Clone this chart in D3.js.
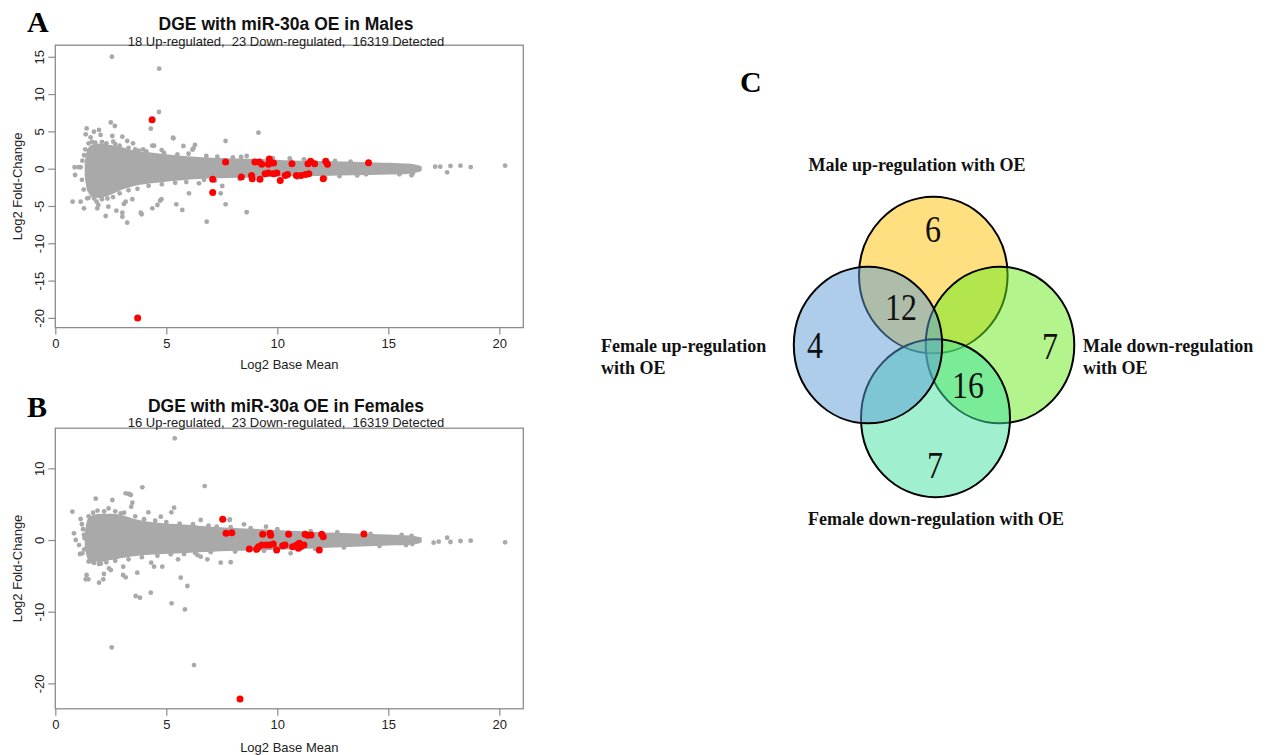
<!DOCTYPE html>
<html>
<head>
<meta charset="utf-8">
<script src="https://cdn.jsdelivr.net/npm/d3@7"></script>
<style>
  body { margin: 0; background: #fff; }
  svg { display: block; }
  text { white-space: pre; }
</style>
</head>
<body>
<svg id="fig" width="1266" height="755"></svg>
<script>
// ---------------- MA plot data ----------------
const xTicks = [0, 5, 10, 15, 20];
const maleYTicks = [-20, -15, -10, -5, 0, 5, 10, 15];
const femaleYTicks = [-20, -10, 0, 10];

const maleTitle = "DGE with miR-30a OE in Males";
const maleSubtitle = "18 Up-regulated,  23 Down-regulated,  16319 Detected";
const femaleTitle = "DGE with miR-30a OE in Females";
const femaleSubtitle = "16 Up-regulated,  23 Down-regulated,  16319 Detected";

// dense core of the gene cloud: outer extent (log2 fold change) by log2 base mean
const bandX        = [1.38, 1.5, 1.7, 2.0, 2.5, 3.0, 3.5, 4.45, 5.95, 7.45, 8.95, 10.45, 12.0, 13.5, 15.0, 16.0, 16.45];
const maleBandHi   = [0.8, 2.6, 3.1, 3.2, 3.0, 2.7, 2.3, 1.95, 1.5, 1.25, 1.15, 0.95, 0.85, 0.75, 0.62, 0.48, 0.2];
const maleBandLo   = [-1.0, -3.0, -3.6, -3.75, -3.3, -2.65, -2.2, -1.75, -1.3, -1.1, -1.0, -0.85, -0.8, -0.7, -0.62, -0.5, -0.2];
const femaleBandHi = [1.0, 2.8, 3.3, 3.5, 3.5, 3.3, 2.8, 2.3, 1.95, 1.6, 1.4, 1.15, 0.9, 0.75, 0.6, 0.45, 0.2];
const femaleBandLo = [-0.9, -2.5, -2.8, -2.9, -2.6, -2.35, -2.1, -1.85, -1.63, -1.4, -1.3, -1.15, -0.95, -0.75, -0.6, -0.5, -0.2];

// individual non-significant genes outside the dense core [baseMean, foldChange]
const maleGray = [
  [2.55, 15.0], [4.68, 13.4], [4.67, 7.6], [4.3, 5.36], [1.41, 5.4], [1.74, 4.96], [1.97, 5.19],
  [2.04, 4.52], [1.37, 4.6], [1.59, 4.2], [2.5, 6.2], [2.68, 5.72], [2.57, 4.38], [2.61, 3.62],
  [3.02, 4.29], [3.24, 3.71], [3.5, 3.4], [3.77, 2.41], [3.96, 2.6], [4.37, 3.08], [4.45, 3.08],
  [4.79, 2.5], [5.3, 4.16], [5.77, 3.04], [6.22, 2.73], [6.29, 3.18], [7.67, 3.71], [9.15, 4.83],
  [8.62, 1.7], [10.56, 1.39], [5.32, 4.07], [6.18, 2.55], [8.37, 1.57], [10.58, 1.2],
  [1.5, 3.4], [1.65, 3.6], [1.8, 3.5], [2.1, 3.6], [2.3, 3.4], [2.7, 3.3], [2.9, 3.1], [3.3, 2.8],
  [3.6, 2.6], [4.1, 2.3], [4.9, 2.1], [5.5, 1.9], [6.0, 2.0], [6.8, 1.7], [7.3, 1.6], [8.0, 1.5],
  [9.8, 1.4], [11.2, 1.25], [12.6, 1.05], [13.3, 0.95],
  [0.78, -4.42], [1.14, -4.42], [1.29, -5.31], [1.44, -3.97], [1.67, -3.53], [1.86, -4.42],
  [1.94, -4.87], [1.89, -5.31], [2.27, -6.34], [2.39, -5.09], [2.75, -5.63], [3.02, -5.9],
  [3.02, -6.43], [3.24, -7.24], [3.09, -4.73], [3.17, -4.42], [3.85, -5.9], [3.89, -6.11],
  [3.47, -4.1], [4.37, -5.31], [4.6, -4.87], [4.72, -4.29], [4.78, -4.1], [5.45, -4.78],
  [5.72, -5.54], [6.02, -3.3], [6.82, -7.1], [7.67, -4.78], [7.45, -3.3], [7.52, -2.32],
  [8.62, -5.84], [6.47, -1.96], [12.16, -1.2], [14.0, -0.76],
  [1.5, -3.9], [1.75, -4.0], [2.1, -4.1], [2.35, -4.0], [2.6, -3.8], [2.9, -3.3], [3.3, -2.9],
  [3.7, -2.7], [4.2, -2.3], [4.8, -2.1], [5.4, -1.9], [5.9, -1.8], [6.7, -1.5], [7.2, -1.6],
  [8.3, -1.35], [9.2, -1.3], [10.9, -1.2], [12.8, -1.0], [13.6, -0.9], [15.5, -0.75],
  [0.87, 0.19], [1.14, 0.19], [0.89, -0.85], [1.22, 1.07], [1.05, 0.2],
  [1.2, -1.5], [1.3, 1.8], [1.28, -2.8], [1.35, 2.6],
  [17.11, 0.27], [17.34, 0.27], [17.8, 0.36], [18.25, 0.4], [18.71, 0.22], [20.26, 0.4],
  [17.65, -0.49], [16.05, -0.89], [16.1, -0.6]
];

// significant genes (red) [baseMean, foldChange]
const maleSig = [
  [4.36, 6.55], [3.71, -20.0], [7.67, 0.89], [7.09, -1.43], [7.09, -3.2], [8.38, -1.12],
  [8.84, -0.9], [8.87, -1.34], [8.99, 0.89], [9.19, 0.89], [9.3, 0.58], [9.22, -1.43],
  [9.64, 1.29], [9.6, 0.58], [9.83, 0.75], [9.45, -0.67], [9.6, -0.59], [9.83, -0.67],
  [9.98, -0.59], [10.13, -1.57], [10.36, -0.9], [10.46, -0.77], [10.66, 0.67], [10.86, -0.9],
  [11.07, -0.9], [11.27, -0.77], [11.38, 0.67], [11.5, 0.98], [11.68, 0.67], [11.42, -0.67],
  [12.07, -1.34], [12.18, 0.98], [12.26, 0.58], [14.11, 0.8]
];

const femaleGray = [
  [5.38, 14.19], [6.73, 7.53], [3.92, 7.35], [3.17, 6.51], [3.32, 6.42], [3.4, 6.28], [1.82, 5.77],
  [2.57, 5.58], [3.47, 5.21], [3.42, 4.65], [5.35, 4.51], [5.23, 3.86], [0.77, 3.95], [1.14, 2.93],
  [4.19, 3.86], [4.75, 3.26], [2.95, 3.72], [7.6, 2.89], [7.86, 2.89], [8.5, 2.19], [6.55, 2.79],
  [7.27, 1.86], [0.84, 0.93], [0.92, 0.0], [1.07, -0.7], [1.29, 0.7], [1.32, 0.23], [9.49, 1.86],
  [7.85, 2.78],
  [1.5, 3.3], [1.7, 3.8], [1.9, 4.1], [2.2, 4.0], [2.4, 4.4], [2.7, 4.0], [3.1, 3.8], [3.6, 3.3],
  [4.0, 2.9], [4.5, 2.7], [5.0, 2.5], [5.6, 2.3], [6.2, 2.2], [6.9, 2.0], [7.9, 1.8], [8.8, 1.65],
  [10.0, 1.5], [11.5, 1.25], [12.7, 1.1], [14.2, 0.85], [15.6, 0.7],
  [1.11, -1.95], [1.22, -1.86], [1.41, -4.88], [1.37, -5.49], [1.49, -5.49], [1.97, -5.95],
  [2.19, -4.74], [2.16, -5.49], [1.67, -3.02], [1.97, -3.35], [2.42, -3.95], [2.5, -4.19],
  [3.06, -3.72], [3.05, -4.88], [3.17, -5.21], [3.69, -4.56], [3.62, -7.81], [3.81, -8.05],
  [4.3, -7.35], [4.32, -3.16], [4.45, -3.72], [4.82, -3.72], [5.24, -8.84], [5.65, -5.26],
  [5.84, -9.68], [5.95, -6.42], [5.53, -2.7], [2.54, -14.98], [6.25, -17.45], [6.4, -2.09],
  [6.55, -2.32], [6.85, -2.7], [7.45, -3.16], [10.6, -1.86], [7.9, -3.1],
  [1.5, -3.0], [1.75, -3.2], [2.05, -3.3], [2.3, -3.1], [2.7, -2.9], [3.3, -2.7], [3.9, -2.4],
  [4.6, -2.2], [5.2, -2.0], [5.8, -1.95], [6.3, -1.8], [7.0, -1.7], [8.1, -1.6], [9.4, -1.5],
  [11.7, -1.25], [13.0, -1.05], [14.6, -0.85], [15.8, -0.7],
  [1.25, 1.5], [1.3, -1.3], [1.2, 2.2],
  [17.04, -0.37], [17.27, -0.23], [17.65, 0.32], [17.8, -0.28], [18.25, -0.14], [18.71, -0.09],
  [20.26, -0.32], [16.05, 0.56], [16.08, -0.56]
];

const femaleSig = [
  [8.32, -22.2], [7.54, 2.89], [7.69, 0.93], [7.95, 1.02], [8.74, -1.26], [9.07, -1.3],
  [9.15, -0.93], [9.34, 0.79], [9.3, -0.7], [9.49, -0.7], [9.67, 0.93], [9.7, 0.65],
  [9.64, -0.7], [9.82, -0.56], [9.97, -1.4], [10.24, -0.79], [10.35, -0.7], [10.51, 0.79],
  [10.69, -0.93], [10.87, -0.7], [10.99, -0.46], [11.05, -0.93], [11.2, -0.7], [11.25, 0.79],
  [11.37, 0.65], [11.52, 0.7], [10.95, -1.16], [11.89, -1.4], [12.0, 0.79], [12.07, 0.46],
  [13.9, 0.84]
];

// ---------------- Venn data ----------------
const vennSetNames = [
  ["Male up-regulation with OE"],
  ["Female up-regulation", "with OE"],
  ["Male down-regulation", "with OE"],
  ["Female down-regulation with OE"]
];
const vennSetColors = ["#FFC000", "#5B9BD5", "#67EB19", "#41E1A1"];
const vennRegionLabels = ["6", "12", "4", "7", "16", "7"];

// ---------------- drawing ----------------
const svg = d3.select("#fig");
svg.append("rect").attr("width", 1266).attr("height", 755).attr("fill", "#fff");

const SANS = "'Liberation Sans', Arial, Helvetica, sans-serif";
const SERIF = "'Liberation Serif', 'Times New Roman', serif";
const GRAY = "#A9A9A9";
const AXIS = "#8c8c8c";

function drawMA(cfg) {
  const g = svg.append("g");
  const x = d3.scaleLinear().domain([0, 21.08]).range([55.3, 523.3]);
  const y = d3.scaleLinear().domain(cfg.yDomain).range([cfg.bottom, cfg.top]);

  const clipId = "clip" + cfg.key;
  svg.append("clipPath").attr("id", clipId)
    .append("rect").attr("x", x.range()[0]).attr("y", cfg.top)
    .attr("width", x.range()[1] - x.range()[0]).attr("height", cfg.bottom - cfg.top);

  const plot = g.append("g").attr("clip-path", `url(#${clipId})`);

  // dense core
  const band = bandX.map((bx, i) => ({ x: bx, hi: cfg.bandHi[i], lo: cfg.bandLo[i] }));
  plot.append("path")
    .datum(band)
    .attr("d", d3.area().x(d => x(d.x)).y0(d => y(d.lo)).y1(d => y(d.hi)).curve(d3.curveMonotoneX))
    .attr("fill", GRAY).attr("stroke", GRAY).attr("stroke-width", 2.5).attr("stroke-linejoin", "round");

  plot.selectAll("circle.gray").data(cfg.gray).join("circle")
    .attr("class", "gray")
    .attr("cx", d => x(d[0])).attr("cy", d => y(d[1])).attr("r", 2.4).attr("fill", GRAY);

  plot.selectAll("circle.sig").data(cfg.sig).join("circle")
    .attr("class", "sig")
    .attr("cx", d => x(d[0])).attr("cy", d => y(d[1])).attr("r", 3.5).attr("fill", "#FF0000");

  // frame
  g.append("rect")
    .attr("x", x.range()[0]).attr("y", cfg.top)
    .attr("width", x.range()[1] - x.range()[0]).attr("height", cfg.bottom - cfg.top)
    .attr("fill", "none").attr("stroke", AXIS).attr("stroke-width", 1.3);

  // x axis
  const xa = g.append("g").attr("transform", `translate(0,${cfg.bottom})`)
    .call(d3.axisBottom(x).tickValues(xTicks).tickSize(7).tickSizeOuter(0).tickPadding(3));
  xa.select(".domain").remove();
  xa.selectAll("line").attr("stroke", AXIS).attr("stroke-width", 1.2);
  xa.selectAll("text").attr("font-family", SANS).attr("font-size", 13).attr("fill", "#222")
    .attr("dy", null).attr("y", cfg.xTickBaseline - cfg.bottom);

  // y axis
  const ya = g.append("g").attr("transform", `translate(${x.range()[0]},0)`)
    .call(d3.axisLeft(y).tickValues(cfg.yTicks).tickSize(7).tickSizeOuter(0)
      .tickFormat(d => String(d)));
  ya.select(".domain").remove();
  ya.selectAll("line").attr("stroke", AXIS).attr("stroke-width", 1.2);
  ya.selectAll("text").attr("font-family", SANS).attr("font-size", 13).attr("fill", "#222")
    .attr("x", 0).attr("y", -11.5).attr("dy", null)
    .attr("text-anchor", "middle").attr("transform", "rotate(-90)");

  // axis titles
  g.append("text").attr("x", (x.range()[0] + x.range()[1]) / 2).attr("y", cfg.xLabelBaseline)
    .attr("text-anchor", "middle").attr("font-family", SANS).attr("font-size", 13).attr("fill", "#222")
    .text("Log2 Base Mean");
  g.append("text")
    .attr("transform", `translate(21.5,${(cfg.top + cfg.bottom) / 2}) rotate(-90)`)
    .attr("text-anchor", "middle").attr("font-family", SANS).attr("font-size", 13).attr("fill", "#222")
    .text("Log2 Fold-Change");

  // titles
  g.append("text").attr("x", 286).attr("y", cfg.titleBaseline)
    .attr("text-anchor", "middle").attr("font-family", SANS).attr("font-weight", "bold")
    .attr("font-size", 17.5).attr("fill", "#111").text(cfg.title);
  g.append("text").attr("x", 286).attr("y", cfg.subBaseline)
    .attr("text-anchor", "middle").attr("font-family", SANS)
    .attr("font-size", 13).attr("fill", "#222").text(cfg.subtitle);

  // panel letter
  g.append("text").attr("x", 27).attr("y", cfg.letterBaseline)
    .attr("font-family", SERIF).attr("font-weight", "bold").attr("font-size", 30)
    .attr("fill", "#000").text(cfg.letter);
}

drawMA({
  key: "A", letter: "A", title: maleTitle, subtitle: maleSubtitle,
  top: 45.2, bottom: 327.6, yDomain: [-21.3, 16.55], yTicks: maleYTicks,
  bandHi: maleBandHi, bandLo: maleBandLo, gray: maleGray, sig: maleSig,
  titleBaseline: 30, subBaseline: 46, letterBaseline: 32,
  xTickBaseline: 348, xLabelBaseline: 368.5
});

drawMA({
  key: "B", letter: "B", title: femaleTitle, subtitle: femaleSubtitle,
  top: 428.2, bottom: 708.8, yDomain: [-23.55, 15.6], yTicks: femaleYTicks,
  bandHi: femaleBandHi, bandLo: femaleBandLo, gray: femaleGray, sig: femaleSig,
  titleBaseline: 412, subBaseline: 427, letterBaseline: 417,
  xTickBaseline: 729, xLabelBaseline: 751.5
});

// ---------------- Venn diagram (panel C) ----------------
const venn = svg.append("g");
// one ellipse per set, in the same order as vennSetNames / vennSetColors
const ellipses = [
  { cx: 933.3, cy: 275.0, rx: 74.3, ry: 78.3 },
  { cx: 868.0, cy: 345.0, rx: 74.2, ry: 78.3 },
  { cx: 1000.0, cy: 345.0, rx: 74.3, ry: 78.3 },
  { cx: 935.5, cy: 418.2, rx: 74.5, ry: 79.0 }
];
// painting order: male up, male down, female down, female up
[0, 2, 3, 1].forEach(i => {
  const e = ellipses[i];
  venn.append("ellipse")
    .attr("cx", e.cx).attr("cy", e.cy).attr("rx", e.rx).attr("ry", e.ry)
    .attr("fill", vennSetColors[i]).attr("fill-opacity", 0.5)
    .attr("stroke", "#000").attr("stroke-width", 2);
});

const regionPos = [
  { x: 933, y: 229 }, { x: 901, y: 307 }, { x: 815, y: 345 },
  { x: 1050, y: 345.5 }, { x: 968, y: 385 }, { x: 935, y: 464.5 }
];
vennRegionLabels.forEach((t, i) => {
  venn.append("text")
    .attr("transform", `translate(${regionPos[i].x},${regionPos[i].y}) scale(1,1.2)`)
    .attr("text-anchor", "middle").attr("dy", "0.34em")
    .attr("font-family", SERIF).attr("font-size", 32).attr("fill", "#111")
    .text(t);
});

const setLabelPos = [
  { x: 917, y: 171, anchor: "middle" },
  { x: 601, y: 352, anchor: "start" },
  { x: 1083, y: 352, anchor: "start" },
  { x: 936, y: 525, anchor: "middle" }
];
vennSetNames.forEach((lines, i) => {
  const p = setLabelPos[i];
  const t = venn.append("text")
    .attr("x", p.x).attr("y", p.y).attr("text-anchor", p.anchor)
    .attr("font-family", SERIF).attr("font-weight", "bold").attr("font-size", 18).attr("fill", "#111");
  lines.forEach((ln, j) => {
    t.append("tspan").attr("x", p.x).attr("dy", j === 0 ? 0 : 22).text(ln);
  });
});

venn.append("text").attr("x", 740).attr("y", 91.5)
  .attr("font-family", SERIF).attr("font-weight", "bold").attr("font-size", 30)
  .attr("fill", "#000").text("C");
</script>
</body>
</html>
